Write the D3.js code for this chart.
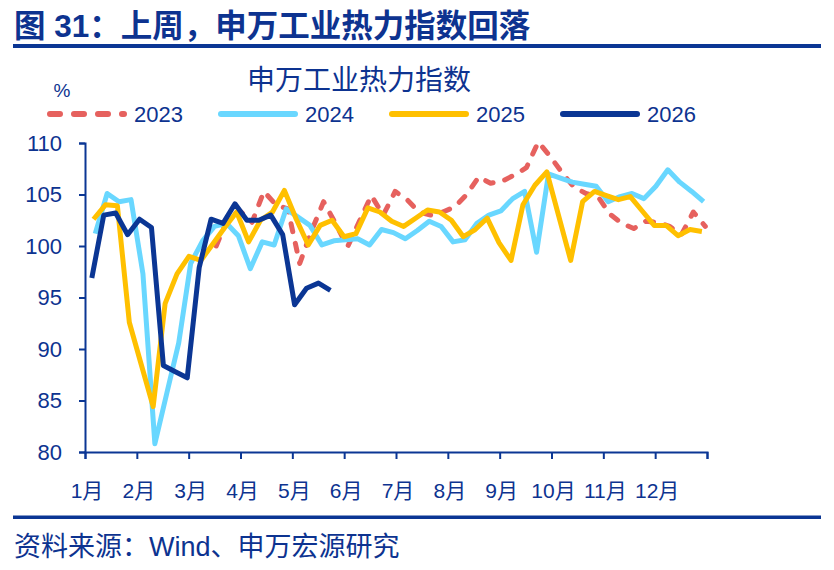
<!DOCTYPE html>
<html>
<head>
<meta charset="utf-8">
<script src="https://cdn.jsdelivr.net/npm/d3@7"></script>
<style>
  body { margin: 0; background: #fff; }
  text { font-family: "Liberation Sans", Arial, "Noto Sans CJK SC", sans-serif; }
</style>
</head>
<body>
<script>
// 申万工业热力指数, weekly values, x = day of year
var years = ["2023", "2024", "2025", "2026"];
var colors = ["#E6615E", "#69D7FF", "#FFC000", "#0B3694"];
var startDay = [77, 6, 5, 4];   // day of year of each series' first week

var v2023 = [100.0, 102.8, 103.4, 102.3, 105.3, 104.0, 103.6, 98.3, 101.5, 104.3,
             102.2, 99.9, 102.4, 104.9, 103.0, 105.3, 104.5, 103.3, 103.0, 103.3,
             103.8, 105.0, 106.7, 106.1, 106.3, 106.9, 107.6, 110.1, 108.7, 107.1,
             105.7, 105.1, 104.8, 103.1, 102.2, 101.7, 102.4, 102.3, 101.9, 101.1,
             103.3, 101.9];
var v2024 = [101.2, 105.1, 104.3, 104.5, 97.3, 80.8, 85.7, 90.6, 98.3, 100.5,
             101.9, 102.2, 101.0, 97.8, 100.4, 100.1, 103.6, 102.8, 102.0, 100.1,
             100.5, 100.6, 100.7, 100.1, 101.6, 101.3, 100.7, 101.5, 102.4, 101.9,
             100.4, 100.6, 102.2, 103.0, 103.4, 104.6, 105.3, 99.4, 107.0, 106.6,
             106.2, 106.0, 105.8, 104.3, 104.8, 105.1, 104.6, 105.8, 107.4, 106.2,
             105.3, 104.3];
var v2025 = [102.6, 104.0, 103.9, 92.6, 88.5, 84.4, 94.4, 97.3, 99.0, 98.6,
             100.2, 101.8, 103.3, 100.4, 102.5, 103.3, 105.4, 102.6, 100.1, 102.0,
             102.5, 100.9, 101.2, 103.7, 103.3, 102.4, 101.9, 102.7, 103.5, 103.3,
             102.5, 100.9, 101.6, 102.7, 100.3, 98.6, 104.0, 105.9, 107.2, 102.9,
             98.6, 104.3, 105.3, 104.9, 104.5, 104.8, 103.4, 102.0, 102.0, 101.0,
             101.6, 101.4];
var v2026 = [96.9, 103.0, 103.2, 101.1, 102.6, 101.8, 88.4, 87.8, 87.2, 97.9,
             102.6, 102.2, 104.1, 102.5, 102.5, 103.0, 101.1, 94.3, 95.9, 96.4,
             95.7];
var values = [v2023, v2024, v2025, v2026];

var months = ["1月", "2月", "3月", "4月", "5月", "6月", "7月", "8月", "9月", "10月", "11月", "12月"];
var yTicks = [80, 85, 90, 95, 100, 105, 110];

var navy = "#0B3694";
var textColor = "#0D3390";

var svg = d3.select("body").append("svg")
  .attr("width", 834)
  .attr("height", 570);

// header
svg.append("text")
  .attr("x", 14).attr("y", 37)
  .attr("font-size", 31.5).attr("font-weight", "bold")
  .attr("fill", textColor)
  .text("图 31：上周，申万工业热力指数回落");
svg.append("rect").attr("x", 13).attr("y", 44).attr("width", 808).attr("height", 4).attr("fill", navy);

svg.append("text")
  .attr("x", 359).attr("y", 90)
  .attr("text-anchor", "middle")
  .attr("font-size", 28)
  .attr("fill", textColor)
  .text("申万工业热力指数");

svg.append("text")
  .attr("x", 62).attr("y", 97)
  .attr("text-anchor", "middle")
  .attr("font-size", 19)
  .attr("fill", textColor)
  .text("%");

// scales
var x = d3.scaleLinear().domain([0, 365]).range([85, 707]);
var y = d3.scaleLinear().domain([80, 110]).range([452, 143]);

// y axis
var yAxis = svg.append("g")
  .attr("transform", "translate(85,0)")
  .call(d3.axisLeft(y).tickValues(yTicks).tickSize(6).tickPadding(17));
yAxis.select(".domain").attr("stroke", navy).attr("stroke-width", 2);
yAxis.selectAll(".tick line").attr("stroke", navy).attr("stroke-width", 2);
yAxis.selectAll(".tick text")
  .attr("font-size", 22)
  .attr("fill", textColor)
  .attr("font-family", "Liberation Sans, Arial, sans-serif");

// x axis, equal month ticks
var monthTicks = d3.range(13).map(function(m) { return m * 365 / 12; });
var xAxis = svg.append("g")
  .attr("transform", "translate(0,452)")
  .call(d3.axisBottom(x).tickValues(monthTicks).tickSize(7).tickFormat(""));
xAxis.select(".domain").attr("stroke", navy).attr("stroke-width", 2);
xAxis.selectAll(".tick line").attr("stroke", navy).attr("stroke-width", 2);

svg.selectAll(".mlabel")
  .data(months)
  .enter()
  .append("text")
    .attr("class", "mlabel")
    .attr("x", function(d, i) { return x(monthTicks[i]) + 2; })
    .attr("y", 498)
    .attr("text-anchor", "middle")
    .attr("font-size", 21)
    .attr("fill", textColor)
    .text(function(d) { return d; });

// lines
var series = years.map(function(yr, k) {
  return {
    year: yr,
    color: colors[k],
    points: values[k].map(function(v, i) { return { day: startDay[k] + 7 * i, value: v }; })
  };
});

var line = d3.line()
  .x(function(d) { return x(d.day); })
  .y(function(d) { return y(d.value); });

svg.selectAll(".series")
  .data(series)
  .enter()
  .append("path")
    .attr("class", "series")
    .attr("d", function(d) { return line(d.points); })
    .attr("fill", "none")
    .attr("stroke", function(d) { return d.color; })
    .attr("stroke-width", 5)
    .attr("stroke-linejoin", "round")
    .attr("stroke-linecap", function(d) { return d.year === "2023" ? "round" : "butt"; })
    .attr("stroke-dasharray", function(d) { return d.year === "2023" ? "8,12" : null; });

// legend
var legend = svg.selectAll(".legend")
  .data(series)
  .enter()
  .append("g")
    .attr("class", "legend")
    .attr("transform", function(d, i) { return "translate(" + (47 + i * 171) + ",114)"; });

legend.append("line")
  .attr("x1", 3).attr("x2", 77)
  .attr("y1", 0).attr("y2", 0)
  .attr("stroke", function(d) { return d.color; })
  .attr("stroke-width", 6)
  .attr("stroke-linecap", "round")
  .attr("stroke-dasharray", function(d) { return d.year === "2023" ? "10,14" : null; });

legend.append("text")
  .attr("x", 87).attr("y", 7.5)
  .attr("font-size", 22)
  .attr("fill", textColor)
  .text(function(d) { return d.year; });

// footer
svg.append("rect").attr("x", 13).attr("y", 515.5).attr("width", 808).attr("height", 3.5).attr("fill", navy);
svg.append("text")
  .attr("x", 14).attr("y", 556)
  .attr("font-size", 27)
  .attr("fill", textColor)
  .text("资料来源：Wind、申万宏源研究");
</script>
</body>
</html>
